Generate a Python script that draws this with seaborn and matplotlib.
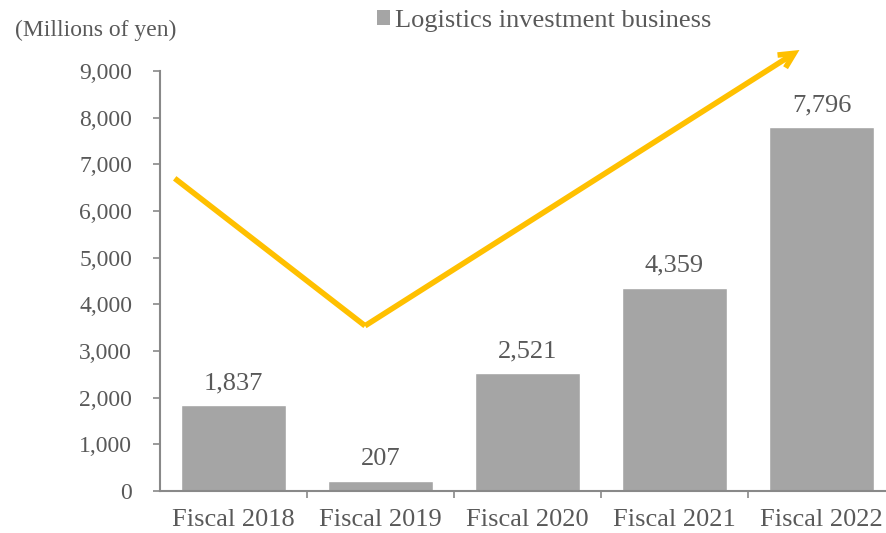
import matplotlib
matplotlib.use("Agg")
import matplotlib.pyplot as plt
import matplotlib.ticker as mticker
from matplotlib.patches import Patch
import seaborn as sns
import pandas as pd

# Data
categories = ["Fiscal 2018", "Fiscal 2019", "Fiscal 2020", "Fiscal 2021", "Fiscal 2022"]
values = [1837, 207, 2521, 4359, 7796]
series_name = "Logistics investment business"
unit_label = "(Millions of yen)"
y_ticks = [0, 1000, 2000, 3000, 4000, 5000, 6000, 7000, 8000, 9000]

# Trend arrow path (category index, value)
trend_x = [-0.40, 0.895, 3.85]
trend_y = [6700, 3540, 9450]

sns.set_theme(style="white")
plt.rcParams["font.family"] = ["Liberation Serif", "DejaVu Serif"]

TEXT = "#595959"
AXIS = "#898989"
BAR = "#A5A5A5"
ARROW = "#FFC000"

df = pd.DataFrame({"category": categories, "value": values})

fig = plt.figure(figsize=(8.86, 5.33), dpi=100)
ax = fig.add_axes([160 / 886, 42 / 533, 735 / 886, 420 / 533])

sns.barplot(data=df, x="category", y="value", color=BAR, width=0.71,
            saturation=1, ax=ax)

ax.set_xlim(-0.5, 4.5)
ax.set_ylim(0, 9000)
ax.set_xlabel("")
ax.set_ylabel("")

ax.set_yticks(y_ticks)
ax.yaxis.set_major_formatter(mticker.FuncFormatter(lambda v, p: f"{int(v):,}"))
ax.tick_params(axis="y", direction="out", length=5, width=1.2, color=AXIS,
               labelsize=17, labelcolor=TEXT, pad=15, left=True)
ax.tick_params(axis="x", which="major", length=0, labelsize=19,
               labelcolor=TEXT, pad=13)
ax.set_xticks([0.5, 1.5, 2.5, 3.5], minor=True)
ax.tick_params(axis="x", which="minor", direction="out", length=5, width=1.2,
               color=AXIS, bottom=True)

for side in ["top", "right"]:
    ax.spines[side].set_visible(False)
for side in ["left", "bottom"]:
    ax.spines[side].set_color(AXIS)
    ax.spines[side].set_linewidth(1.5)

for container in ax.containers:
    ax.bar_label(container, labels=[f"{v:,}" for v in values], padding=8,
                 fontsize=19, color=TEXT)

# Trend arrow
ax.plot(trend_x[:2], trend_y[:2], color=ARROW, lw=4, solid_capstyle="butt",
        clip_on=False, zorder=5)
ax.annotate("", xy=(trend_x[2], trend_y[2]), xytext=(trend_x[1], trend_y[1]),
            arrowprops=dict(arrowstyle="->,head_length=0.9,head_width=0.45",
                            color=ARROW, lw=4, shrinkA=0, shrinkB=0,
                            joinstyle="miter", capstyle="butt"),
            annotation_clip=False, zorder=5)

fig.text(15 / 886, 1 - 30 / 533, unit_label, fontsize=17, color=TEXT,
         ha="left", va="center")

fig.legend(handles=[Patch(facecolor=BAR, edgecolor="none", label=series_name)],
           loc="center left", bbox_to_anchor=(377 / 886, 1 - 21 / 533),
           frameon=False, fontsize=19, labelcolor=TEXT,
           handlelength=0.5, handleheight=0.5, handletextpad=0.2,
           borderpad=0, borderaxespad=0)

fig.savefig("out.png", dpi=100)
